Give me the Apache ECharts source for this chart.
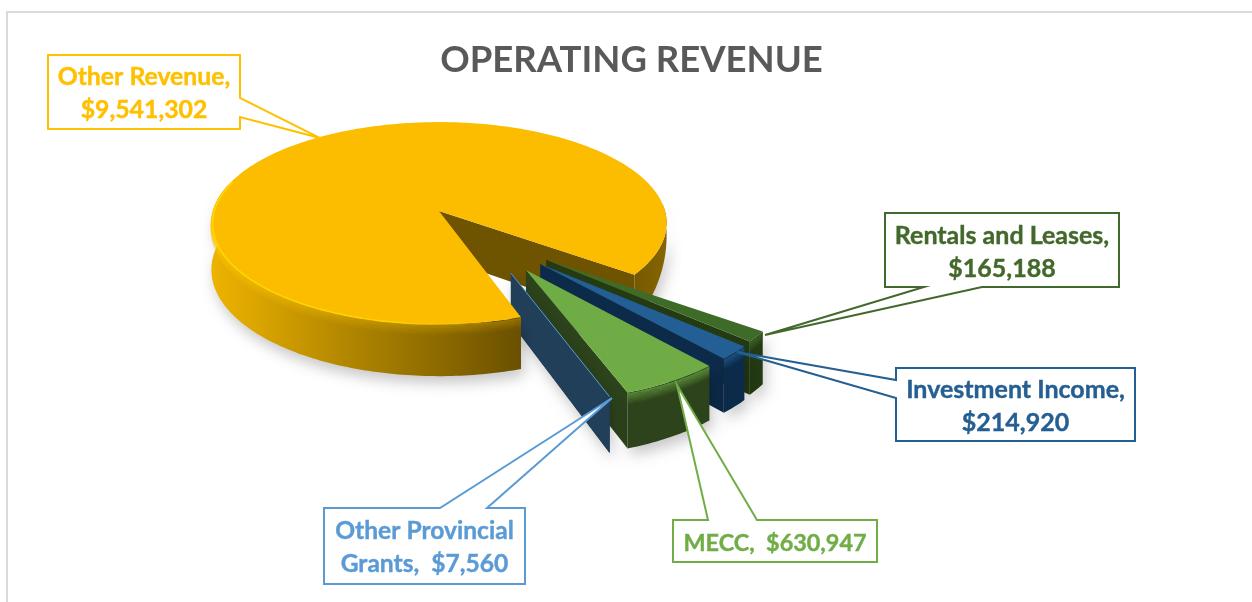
<!DOCTYPE html>
<html><head><meta charset="utf-8">
<style>html,body{margin:0;padding:0;background:#fff}#c{width:1252px;height:602px}</style>
<script src="https://cdn.jsdelivr.net/npm/echarts@6/dist/echarts.min.js"></script>
</head><body><div id="c"></div>
<script>
// ---- data ----
const categories = ['Other Revenue','Rentals and Leases','Investment Income','MECC','Other Provincial Grants'];
const revenueValues = [9541302,165188,214920,630947,7560];
const labelLines = [
  ['Other Revenue,','$9,541,302'],
  ['Rentals and Leases,','$165,188'],
  ['Investment Income,','$214,920'],
  ['MECC,  $630,947'],
  ['Other Provincial','Grants,  $7,560']
];
const chartTitle = 'OPERATING REVENUE';
// ---- styles & layout ----
const topColors  = ['#FCBD00','#3F6B28','#235F95','#6FAC46','#223F5A'];
const sideColors = ['#6E5300','#233A12','#0C2A4A','#2C431B','#223F5A'];
const textColors = ['#FFC000','#43682B','#255E91','#70AD47','#5B9BD5'];
const labelSizes = [24.8,25,25,23.4,24.6];
const explodeDist = [0,0.645,0.655,0.66,0.652];
const explodeDir  = [0,46,50,57,63];
const callouts = [
  {box:[48,55,240,129],  wedge:[[240,98],[320,138],[240,117]]},
  {box:[885,213,1119,287],wedge:[[982,287],[765,335],[924,287]]},
  {box:[896,368,1135,441],wedge:[[896,380],[737,352],[896,398]]},
  {box:[673,520,877,562],wedge:[[757,520],[677,385],[708,520]]},
  {box:[324,508,525,584], wedge:[[487,508],[612,398],[440,508]]}
];
const P = {cx:439,cy:211,a:226,b:99.5,k:0.119,h:46,start:36.5};
const FONT = 'Lato';

const total = revenueValues.reduce((s,v)=>s+v,0);
const order = [1,2,3,4,0];
const angles = {};
(function(){let t=P.start;order.forEach(i=>{const d=revenueValues[i]/total*360;angles[i]=[t,t+d];t+=d;});})();

function proj(X,Y,z){const s=1/(1-P.k*Y);return [P.cx+P.a*X*s,P.cy+P.b*Y*s+(z||0)*s];}
function rad(d){return d*Math.PI/180;}
function offs(i){const r=rad(explodeDir[i]);return [explodeDist[i]*Math.cos(r),explodeDist[i]*Math.sin(r)];}
function rimPt(i,t,z,r){const o=offs(i),R=r==null?1:r;return proj(o[0]+R*Math.cos(rad(t)),o[1]+R*Math.sin(rad(t)),z);}
function arc(i,a1,a2,z,r){const n=Math.max(2,Math.ceil(Math.abs(a2-a1)));const pts=[];for(let j=0;j<=n;j++){pts.push(rimPt(i,a1+(a2-a1)*j/n,z,r));}return pts;}
function apex(i,z){const o=offs(i);return proj(o[0],o[1],z);}
function poly(points,fill,z2,extra){return {type:'polygon',z2:z2,shape:{points:points},style:Object.assign({fill:fill,stroke:null},extra||{})};}
function line(points,stroke,w,z2){return {type:'polyline',z2:z2,shape:{points:points,smooth:0},style:{fill:null,stroke:stroke,lineWidth:w,lineCap:'butt',lineJoin:'round'}};}
function hGrad(x0,x1,stops){return {type:'linear',global:true,x:x0,y:0,x2:x1,y2:0,colorStops:stops};}
const SHADOW={shadowBlur:14,shadowColor:'rgba(0,0,0,0.22)',shadowOffsetY:7,shadowOffsetX:3};

function renderSlice(params,api){
  const i=params.dataIndex;
  api.value(0);
  const [a1,a2]=angles[i];
  const ch=[];
  if(i===0){
    const endA=a1, startA=a2;
    // right-hand rim narrows towards its extreme, as in the reference's perspective
    const rightTop=arc(0,startA-41,startA,0);
    const rightBot=[];
    for(let t=startA;t>=startA-41;t-=1){rightBot.push(rimPt(0,t,P.h*Math.max(0,(t-(startA-41))/41)));}
    ch.push(poly(rightTop.concat(rightBot),hGrad(620,668,[{offset:0,color:'#6E5300'},{offset:1,color:'#876600'}]),1,SHADOW));
    ch.push(poly([apex(0,0),rimPt(0,startA,0),rimPt(0,startA,P.h),apex(0,P.h)],sideColors[0],2));
    const fTop=arc(0,endA,195,0), fBot=arc(0,195,endA,P.h);
    ch.push(poly(fTop.concat(fBot),hGrad(211,520,[{offset:0,color:'#EDB300'},{offset:0.12,color:'#DFA800'},{offset:0.45,color:'#B08500'},{offset:0.75,color:'#8B6900'},{offset:1,color:'#6A5000'}]),20,SHADOW));
    ch.push(poly([apex(0,0)].concat(arc(0,a1,a2,0)),topColors[0],22));
    for(let s=1;s<=6;s++){
      const al=(0.6-s*0.09).toFixed(2);
      ch.push(line(arc(0,a1,200,s*1.5),hGrad(211,520,[{offset:0,color:'rgba(255,196,0,'+al+')'},{offset:1,color:'rgba(190,145,0,'+al+')'}]),1.6,21));
    }
    ch.push(line(arc(0,a1+8,198,0.8,0.995),hGrad(211,520,[{offset:0,color:'#FFD800'},{offset:0.6,color:'#FFD000'},{offset:1,color:'rgba(252,189,0,0)'}]),1.6,23));
  } else {
    const z=4+i*3;
    ch.push(poly([apex(i,0),rimPt(i,a2,0),rimPt(i,a2,P.h),apex(i,P.h)],sideColors[i],z));
    if(i!==4){
      const sTop=arc(i,a1,a2,0), sBot=arc(i,a2,a1,P.h);
      ch.push(poly(sTop.concat(sBot),sideColors[i],z,SHADOW));
      ch.push(poly([apex(i,0)].concat(arc(i,a1,a2,0)),topColors[i],z+1));
      for(let s=1;s<=7;s++){
        ch.push(line(arc(i,a1,a2,s*1.4),echarts.color.modifyAlpha(topColors[i],(0.75-s*0.1).toFixed(2)),1.6,z+1));
      }
    } else {
      ch.push(poly([apex(i,0),rimPt(i,a2,0),rimPt(i,a2,P.h),apex(i,P.h)],sideColors[i],z,SHADOW));
      ch.push(line([apex(i,0),rimPt(i,a2,0)],'#5B9BD5',1,z+1));
    }
  }
  const c=callouts[i], b=c.box, w=c.wedge;
  ch.push({type:'polygon',z2:40+i,shape:{points:calloutOutline(b,w)},style:{fill:'#fff',stroke:textColors[i],lineWidth:2,lineJoin:'miter'}});
  const cx=(b[0]+b[2])/2, cy=(b[1]+b[3])/2;
  ch.push({type:'text',z2:50+i,style:{text:labelLines[i].join('\n'),x:cx,y:cy+2,align:'center',verticalAlign:'middle',fill:textColors[i],stroke:textColors[i],lineWidth:0.4,font:'700 '+labelSizes[i]+'px '+FONT,lineHeight:33}});
  return {type:'group',children:ch};
}
function calloutOutline(b,w){
  const [x0,y0,x1,y1]=b;
  const [p,t,q]=w;
  if(p[0]===x1&&q[0]===x1) return [[x0,y0],[x1,y0],p,t,q,[x1,y1],[x0,y1]];
  if(p[0]===x0&&q[0]===x0) return [[x0,y0],[x1,y0],[x1,y1],[x0,y1],q,t,p];
  if(p[1]===y1&&q[1]===y1) return [[x0,y0],[x1,y0],[x1,y1],p,t,q,[x0,y1]];
  return [[x0,y0],q,t,p,[x1,y0],[x1,y1],[x0,y1]];
}

const chart=echarts.init(document.getElementById('c'),null,{renderer:'canvas'});
chart.setOption({
  animation:false,
  backgroundColor:'#fff',
  title:{text:chartTitle,left:626.5,top:37,textAlign:'center',textStyle:{fontFamily:FONT,fontWeight:700,fontSize:36.5,color:'#595959'}},
  tooltip:{show:false},
  graphic:[{type:'rect',silent:true,z:-1,shape:{x:7,y:12,width:1400,height:800},style:{fill:'#fff',stroke:'#D9D9D9',lineWidth:2}}],
  series:[{
    type:'custom',name:'Operating Revenue',coordinateSystem:'none',silent:true,
    renderItem:renderSlice,
    data:categories.map((n,i)=>({name:n,value:[revenueValues[i]]}))
  }]
});
</script></body></html>
